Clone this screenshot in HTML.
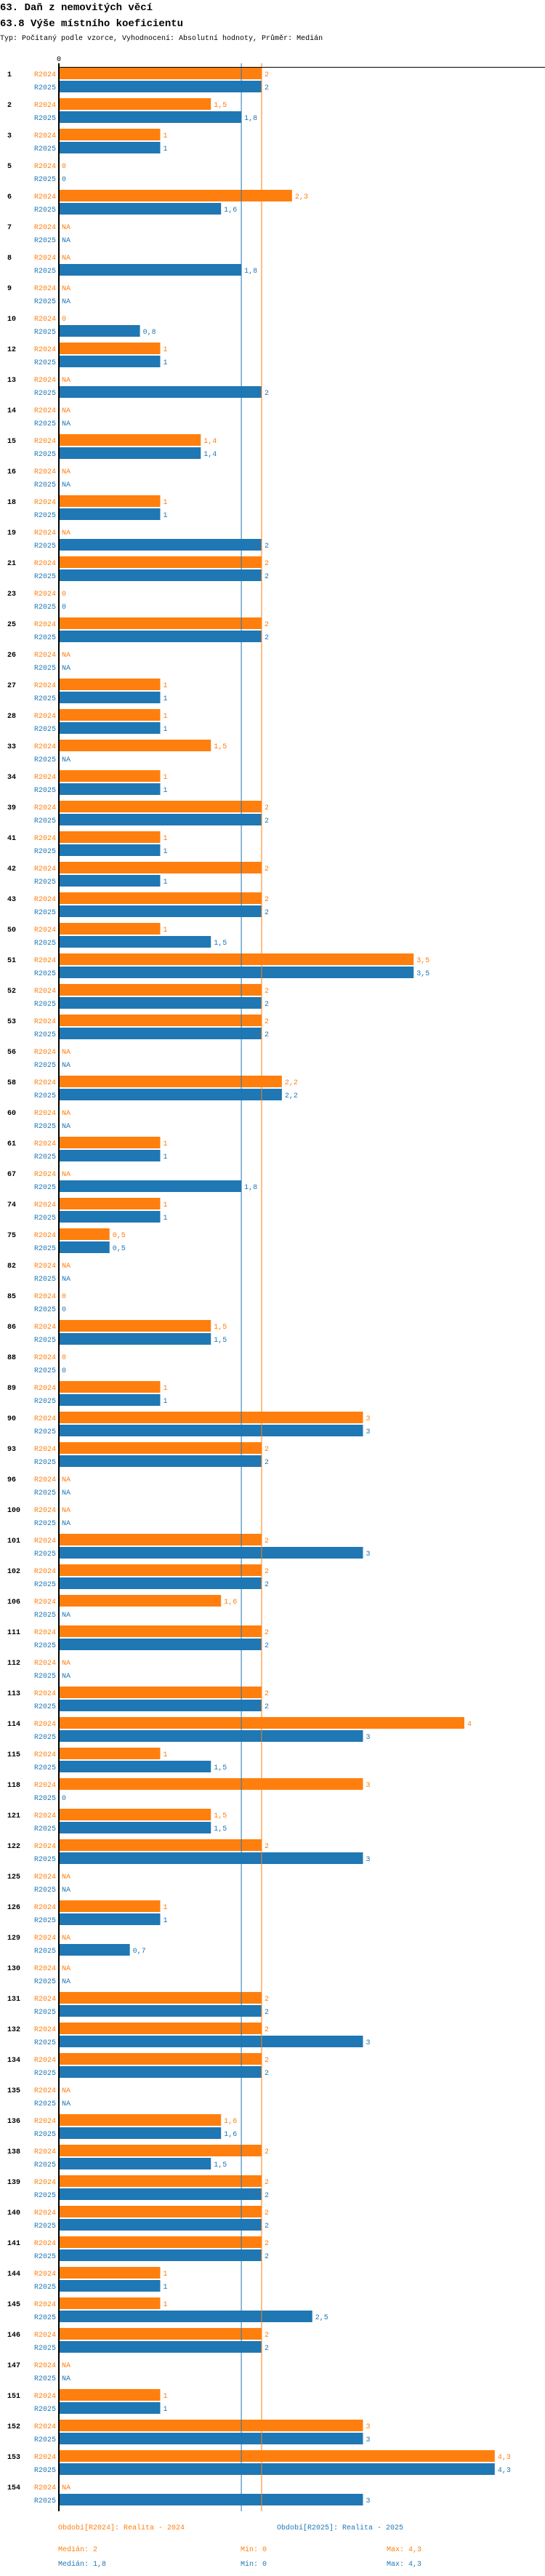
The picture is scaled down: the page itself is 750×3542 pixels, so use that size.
<!DOCTYPE html>
<html><head><meta charset="utf-8">
<style>
html,body{margin:0;padding:0;background:#fff;}
svg{display:block;font-family:"Liberation Mono",monospace;}
</style></head>
<body>
<svg id="chart" width="750" height="3542" viewBox="0 0 750 3542" xmlns="http://www.w3.org/2000/svg">
<text x="0" y="14" font-size="14" font-weight="bold" fill="#000">63. Daň z nemovitých věcí</text>
<text x="0" y="36" font-size="14" font-weight="bold" fill="#000">63.8 Výše místního koeficientu</text>
<text x="0" y="55" font-size="10" fill="#000">Typ: Počítaný podle vzorce, Vyhodnocení: Absolutní hodnoty, Průměr: Medián</text>
<g id="plot"></g>
</svg>
<script>
const categories = ["1","2","3","5","6","7","8","9","10","12","13","14","15","16","18","19","21","23","25","26","27","28","33","34","39","41","42","43","50","51","52","53","56","58","60","61","67","74","75","82","85","86","88","89","90","93","96","100","101","102","106","111","112","113","114","115","118","121","122","125","126","129","130","131","132","134","135","136","138","139","140","141","144","145","146","147","151","152","153","154"];
const values2024 = [2,1.5,1,0,2.3,null,null,null,0,1,null,null,1.4,null,1,null,2,0,2,null,1,1,1.5,1,2,1,2,2,1,3.5,2,2,null,2.2,null,1,null,1,0.5,null,0,1.5,0,1,3,2,null,null,2,2,1.6,2,null,2,4,1,3,1.5,2,null,1,null,null,2,2,2,null,1.6,2,2,2,2,1,1,2,null,1,3,4.3,null];
const values2025 = [2,1.8,1,0,1.6,null,1.8,null,0.8,1,2,null,1.4,null,1,2,2,0,2,null,1,1,null,1,2,1,1,2,1.5,3.5,2,2,null,2.2,null,1,1.8,1,0.5,null,0,1.5,0,1,3,2,null,null,3,2,null,2,null,2,3,1.5,0,1.5,3,null,1,0.7,null,2,3,2,null,1.6,1.5,2,2,2,1,2.5,2,null,1,3,4.3,3];
const seriesNames = ["R2024","R2025"];
const medians = [2,1.8];
const mins = [0,0];
const maxs = [4.3,4.3];

const NS="http://www.w3.org/2000/svg";
const COL=["#ff7f0e","#1f77b4"];
const X0=81, UNIT=139.5, ROW0=101, PITCH=42, AXTOP=87;
const xs=v=>X0+v*UNIT;
const ys=i=>ROW0+i*PITCH;
const plot=document.getElementById('plot');
function mk(tag,attrs,txt){const e=document.createElementNS(NS,tag);for(const k in attrs)e.setAttribute(k,attrs[k]);if(txt!==undefined)e.textContent=txt;plot.appendChild(e);return e;}
const fmt=v=>String(v).replace('.',',');
const axBottom=ys(categories.length-1)+34;

categories.forEach((c,i)=>{
  const y=ys(i);
  const t=mk('text',{x:10,y:y+4,'font-size':10,'font-weight':'bold',fill:'#000'},c);
  
  
  [values2024,values2025].forEach((arr,s)=>{
    const cy=y+s*18;
    const l=mk('text',{x:77,y:cy+4,'font-size':10,fill:COL[s],'text-anchor':'end'},seriesNames[s]);
    
    
    const v=arr[i];
    if(v!==null && v>0){
      const r=mk('rect',{x:82,y:cy-8,width:xs(v)-82,height:16,fill:COL[s]});
      
      
    }
    const vx=(v===null||v===0)?85:xs(v)+4;
    const vt=mk('text',{x:vx,y:cy+4,'font-size':10,fill:COL[s]},v===null?'NA':fmt(v));
    
    
  });
});

// median lines
medians.forEach((m,s)=>{
  const ln=mk('line',{x1:xs(m),x2:xs(m),y1:AXTOP,y2:axBottom,stroke:COL[s],'stroke-width':1});
  
  
});
// axes
const ax=mk('line',{x1:80,x2:750,y1:92.5,y2:92.5,stroke:'#000','stroke-width':1});


const ay=mk('line',{x1:81,x2:81,y1:AXTOP,y2:axBottom,stroke:'#000','stroke-width':2});


const tk=mk('text',{x:81,y:84,'font-size':10,fill:'#000','text-anchor':'middle'},'0');



// legend
const lg1=mk('text',{x:80,y:3478,'font-size':10,fill:COL[0]},'Období['+seriesNames[0]+']: Realita - 2024');


const lg2=mk('text',{x:381,y:3478,'font-size':10,fill:COL[1]},'Období['+seriesNames[1]+']: Realita - 2025');


[0,1].forEach(s=>{
  const yy=3508+s*20;
  const a=mk('text',{x:80,y:yy,'font-size':10,fill:COL[s]},'Medián: '+fmt(medians[s]));
  
  
  const b=mk('text',{x:331,y:yy,'font-size':10,fill:COL[s]},'Min: '+fmt(mins[s]));
  
  
  const d=mk('text',{x:532,y:yy,'font-size':10,fill:COL[s]},'Max: '+fmt(maxs[s]));
  
  
});
</script>
</body></html>
